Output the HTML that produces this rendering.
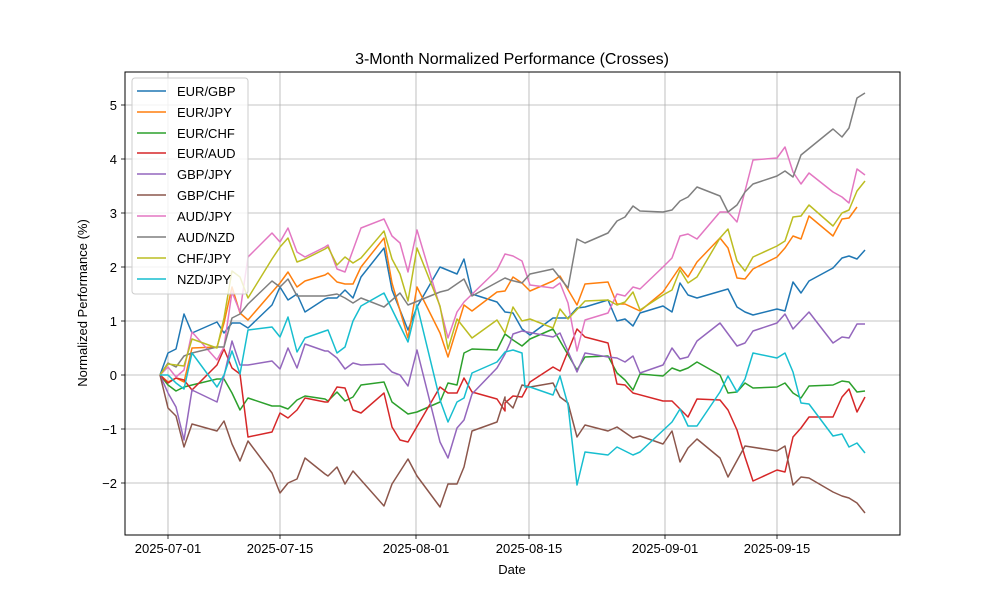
<!DOCTYPE html>
<html><head><meta charset="utf-8"><style>body{margin:0;background:#fff}svg text{font-family:"Liberation Sans","DejaVu Sans",sans-serif}</style></head><body>
<svg width="1000" height="600" viewBox="0 0 1000 600" xmlns="http://www.w3.org/2000/svg">
<rect width="1000" height="600" fill="#fff"/>
<g stroke="#b0b0b0" stroke-width="0.8">
<line x1="125" x2="900" y1="105" y2="105"/><line x1="125" x2="900" y1="159" y2="159"/><line x1="125" x2="900" y1="213" y2="213"/><line x1="125" x2="900" y1="267" y2="267"/><line x1="125" x2="900" y1="321" y2="321"/><line x1="125" x2="900" y1="375" y2="375"/><line x1="125" x2="900" y1="429" y2="429"/><line x1="125" x2="900" y1="483" y2="483"/>
<line x1="168" x2="168" y1="72" y2="535"/><line x1="280" x2="280" y1="72" y2="535"/><line x1="416" x2="416" y1="72" y2="535"/><line x1="529" x2="529" y1="72" y2="535"/><line x1="665" x2="665" y1="72" y2="535"/><line x1="777" x2="777" y1="72" y2="535"/>
</g>
<g fill="none" stroke-width="1.5" stroke-linejoin="round">
<polyline stroke="#1f77b4" points="160,375 168,353 176,349 184,314 192,333 217,322 224,333 232,323 240,323 248,328 272,305 280,287 288,300 297,294 305,312 325,299 328,298 337,298 345,290 353,298 361,277 384,248 392,290 408,330 417,307 440,267 457,274 464,259 472,294 497,302 505,312 513,313 522,329 530,335 553,318 568,318 577,308 585,307 608,300 617,321 625,319 633,326 640,313 663,306 672,312 680,283 688,295 697,298 728,289 737,307 745,312 753,315 777,309 785,311 793,282 801,293 809,281 833,268 842,258 849,256 857,259 865,250"/>
<polyline stroke="#ff7f0e" points="160,375 168,382 176,378 184,382 192,348 217,347 224,323 232,287 240,313 248,320 280,283 288,272 297,287 305,281 325,275 328,273 337,282 345,284 353,284 361,267 384,238 392,283 408,338 417,287 440,333 448,357 464,305 472,311 497,292 505,291 513,277 522,283 530,291 553,281 560,276 577,305 585,284 608,282 617,304 625,304 640,311 663,292 680,267 688,277 697,262 720,238 728,248 737,278 745,279 753,269 777,257 785,248 793,236 801,239 809,216 833,236 842,219 849,218 857,207"/>
<polyline stroke="#2ca02c" points="160,375 168,385 176,391 184,387 192,385 217,379 224,379 232,393 240,410 248,398 272,406 280,406 288,409 297,400 305,396 325,399 328,401 337,392 345,401 353,397 361,385 384,382 392,402 408,414 417,412 440,402 448,383 457,385 464,353 472,349 497,350 505,334 513,340 522,346 530,339 553,329 577,370 585,357 608,356 617,373 625,380 633,390 640,374 663,376 672,368 680,371 688,368 697,362 720,375 728,393 737,392 745,383 753,388 777,387 785,383 793,393 801,398 809,386 833,385 842,381 849,382 857,392 865,391"/>
<polyline stroke="#d62728" points="160,375 168,383 176,378 184,380 192,390 217,365 224,349 232,368 240,374 248,437 272,432 280,413 288,418 297,410 305,398 325,402 328,402 337,387 345,388 353,410 361,413 384,393 392,427 400,440 408,442 440,387 448,393 457,393 464,378 472,392 497,399 505,411 505,403 513,396 522,397 530,382 553,367 560,371 577,329 585,337 608,343 617,384 625,385 633,393 663,401 672,401 688,417 697,399 720,400 728,410 737,430 745,457 753,481 777,470 785,472 793,437 801,428 809,417 833,417 842,397 849,389 857,412 865,397"/>
<polyline stroke="#9467bd" points="160,375 168,393 176,407 184,440 192,390 217,402 224,376 232,341 240,365 248,365 272,361 280,369 288,348 297,368 305,344 325,351 328,351 337,358 345,369 353,363 361,365 384,364 392,372 400,375 408,386 417,350 440,442 448,458 457,428 464,420 472,394 497,368 505,354 510,343 513,334 522,331 553,337 560,333 577,372 585,353 608,357 617,358 625,362 633,356 640,373 663,365 672,348 680,359 688,357 697,341 720,323 737,346 745,343 753,331 777,323 785,314 793,329 809,312 833,343 842,337 849,338 857,324 865,324"/>
<polyline stroke="#8c564b" points="160,375 168,408 176,416 184,447 192,424 217,431 224,421 232,444 240,461 248,441 272,473 280,493 288,483 297,479 305,458 325,474 328,476 337,467 345,484 353,471 384,506 392,484 408,459 417,476 440,507 448,484 457,484 464,467 472,431 497,422 505,397 505,400 513,408 522,385 530,387 553,383 560,397 568,403 577,437 585,425 608,431 617,427 633,438 640,436 663,444 672,431 680,462 688,448 697,439 720,458 728,477 745,446 777,451 785,446 793,485 801,477 809,478 833,492 842,496 849,498 857,503 865,513"/>
<polyline stroke="#e377c2" points="160,375 168,367 176,377 184,370 192,332 217,360 224,347 232,292 240,312 248,257 272,233 280,242 288,228 297,252 305,257 325,247 328,245 337,269 345,272 361,228 384,219 392,236 400,243 408,272 417,230 440,307 448,338 457,312 464,302 497,270 505,254 513,256 522,261 530,285 553,288 560,283 568,303 577,351 585,320 608,313 617,294 625,296 633,287 640,289 663,267 672,258 680,236 688,234 697,239 720,212 728,212 737,222 753,160 777,158 785,147 793,172 801,184 809,173 833,192 842,197 849,203 857,169 865,175"/>
<polyline stroke="#7f7f7f" points="160,375 168,363 176,367 184,356 192,353 217,347 224,347 232,318 240,314 248,304 272,281 280,287 288,279 297,296 305,296 325,296 337,294 345,298 353,303 361,298 384,307 400,293 408,305 440,292 448,290 464,279 472,296 505,278 510,280 522,283 530,274 553,269 568,288 577,239 585,243 608,233 617,221 625,217 633,206 640,211 663,212 672,210 680,201 688,197 697,187 720,196 728,212 737,205 745,192 753,184 777,176 785,171 793,177 801,155 833,129 842,137 849,128 857,98 865,93"/>
<polyline stroke="#bcbd22" points="160,375 168,364 176,365 184,366 192,339 217,348 224,318 232,271 240,277 248,298 272,259 280,247 288,238 297,262 305,259 325,249 328,247 337,265 345,257 353,263 361,258 384,231 392,259 400,274 408,301 417,248 440,306 448,349 457,319 472,338 497,320 505,333 513,307 522,321 530,319 553,328 560,309 568,319 585,301 608,300 617,305 625,302 633,292 640,310 663,295 672,290 680,270 688,283 697,277 720,238 728,229 737,261 745,271 753,257 777,246 785,241 793,217 801,216 809,205 833,226 842,213 849,210 857,191 865,181"/>
<polyline stroke="#17becf" points="160,375 168,375 176,383 184,389 192,353 217,387 224,375 232,351 240,374 248,330 272,327 280,337 288,317 297,352 305,338 325,331 328,330 337,353 345,347 353,321 361,306 384,293 408,342 417,305 440,400 448,422 457,402 464,398 472,373 497,362 505,352 513,350 522,353 525,387 530,387 553,395 560,376 568,405 577,485 585,452 608,455 617,447 633,455 640,452 672,422 680,409 688,426 697,426 720,392 728,376 737,392 745,379 753,353 777,358 785,353 793,372 801,403 809,404 833,436 842,434 849,447 857,443 865,453"/>
</g>
<rect x="125" y="72" width="775" height="463" fill="none" stroke="#000" stroke-width="1"/>
<g stroke="#000" stroke-width="0.8">
<line x1="121" x2="125" y1="105" y2="105"/><line x1="121" x2="125" y1="159" y2="159"/><line x1="121" x2="125" y1="213" y2="213"/><line x1="121" x2="125" y1="267" y2="267"/><line x1="121" x2="125" y1="321" y2="321"/><line x1="121" x2="125" y1="375" y2="375"/><line x1="121" x2="125" y1="429" y2="429"/><line x1="121" x2="125" y1="483" y2="483"/>
<line x1="168" x2="168" y1="535" y2="539"/><line x1="280" x2="280" y1="535" y2="539"/><line x1="416" x2="416" y1="535" y2="539"/><line x1="529" x2="529" y1="535" y2="539"/><line x1="665" x2="665" y1="535" y2="539"/><line x1="777" x2="777" y1="535" y2="539"/>
</g>
<g font-size="13" text-anchor="end" fill="#000">
<text x="117" y="110">5</text><text x="117" y="164">4</text><text x="117" y="218">3</text><text x="117" y="272">2</text><text x="117" y="326">1</text><text x="117" y="380">0</text><text x="117" y="434">−1</text><text x="117" y="488">−2</text>
</g>
<g font-size="13" text-anchor="middle" fill="#000">
<text x="168" y="553">2025-07-01</text><text x="280" y="553">2025-07-15</text><text x="416" y="553">2025-08-01</text><text x="529" y="553">2025-08-15</text><text x="665" y="553">2025-09-01</text><text x="777" y="553">2025-09-15</text>
<text x="512" y="574">Date</text>
<text x="512" y="64" font-size="16">3-Month Normalized Performance (Crosses)</text>
<text transform="translate(87,303) rotate(-90)">Normalized Performance (%)</text>
</g>
<rect x="132" y="78" width="116" height="216" rx="3" fill="#fff" fill-opacity="0.8" stroke="#ccc"/>
<g stroke-width="1.5">
<line x1="137" x2="166" y1="91" y2="91" stroke="#1f77b4"/><line x1="137" x2="166" y1="112" y2="112" stroke="#ff7f0e"/><line x1="137" x2="166" y1="133" y2="133" stroke="#2ca02c"/><line x1="137" x2="166" y1="153" y2="153" stroke="#d62728"/><line x1="137" x2="166" y1="174" y2="174" stroke="#9467bd"/><line x1="137" x2="166" y1="195" y2="195" stroke="#8c564b"/><line x1="137" x2="166" y1="216" y2="216" stroke="#e377c2"/><line x1="137" x2="166" y1="237" y2="237" stroke="#7f7f7f"/><line x1="137" x2="166" y1="258" y2="258" stroke="#bcbd22"/><line x1="137" x2="166" y1="279" y2="279" stroke="#17becf"/>
</g>
<g font-size="13" fill="#000">
<text x="177" y="96">EUR/GBP</text><text x="177" y="117">EUR/JPY</text><text x="177" y="138">EUR/CHF</text><text x="177" y="158">EUR/AUD</text><text x="177" y="179">GBP/JPY</text><text x="177" y="200">GBP/CHF</text><text x="177" y="221">AUD/JPY</text><text x="177" y="242">AUD/NZD</text><text x="177" y="263">CHF/JPY</text><text x="177" y="284">NZD/JPY</text>
</g>
</svg>
</body></html>
